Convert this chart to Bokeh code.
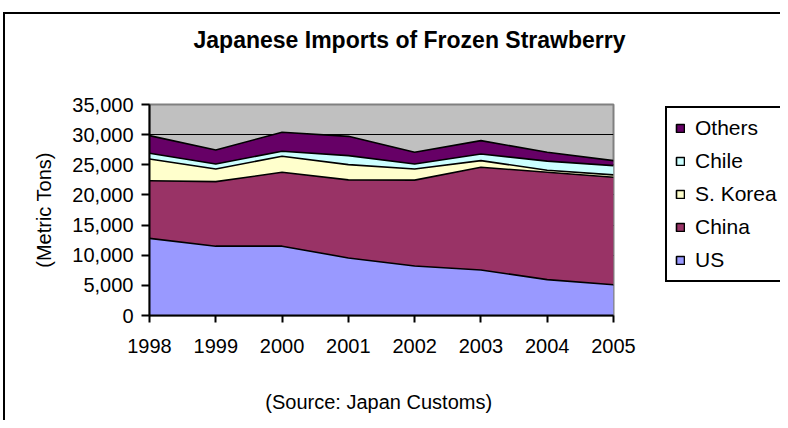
from bokeh.plotting import figure
from bokeh.layouts import row
from bokeh.models import ColumnDataSource, Legend, LegendItem, NumeralTickFormatter, FixedTicker, Title, Range1d
from bokeh.embed import file_html
from bokeh.resources import INLINE

years = [1998, 1999, 2000, 2001, 2002, 2003, 2004, 2005]
us = [12800, 11500, 11500, 9550, 8200, 7550, 5950, 5100]
china = [9550, 10710, 12260, 12940, 14250, 17040, 17810, 17830]
skorea = [3600, 2100, 2650, 2540, 1860, 1100, 340, 390]
chile = [960, 830, 830, 1490, 830, 1110, 1500, 1540]
others = [2930, 2320, 3150, 3200, 1930, 2210, 1470, 830]

series = ["US", "China", "S. Korea", "Chile", "Others"]
colors = ["#9999FF", "#993366", "#FFFFCC", "#CCFFFF", "#660066"]
y_ticks = [0, 5000, 10000, 15000, 20000, 25000, 30000, 35000]

src = ColumnDataSource(dict(year=years, US=us, China=china, **{"S. Korea": skorea}, Chile=chile, Others=others))

FONT = "Liberation Sans"
W, H = 660, 420
LW = 780 - W
fl, ft, fw, fh = 149, 104, 464, 211

p = figure(width=W, height=H, output_backend="svg", toolbar_location=None,
           x_range=Range1d(1998, 2005), y_range=Range1d(0, 35000),
           min_border_left=fl, min_border_top=ft,
           min_border_right=W - fl - fw, min_border_bottom=H - ft - fh,
           background_fill_color="#C0C0C0", border_fill_alpha=0,
           outline_line_color="#808080", outline_line_width=2)
# outer chart-area frame (continues past the window edges)
p.styles = {
    "background-color": "white",
    "background-image": "linear-gradient(#000,#000), linear-gradient(#000,#000)",
    "background-size": "2px 100%, 100% 2px",
    "background-position": "3px 12px, 3px 12px",
    "background-repeat": "no-repeat",
}

p.varea_stack(stackers=series, x="year", color=colors, source=src)
p.vline_stack(stackers=series, x="year", color="black", line_width=1.6, source=src)

# axes
p.yaxis.ticker = FixedTicker(ticks=y_ticks)
p.yaxis.formatter = NumeralTickFormatter(format="0,0")
p.xaxis.ticker = FixedTicker(ticks=years)
for ax in (p.xaxis[0], p.yaxis[0]):
    ax.axis_line_width = 2
    ax.axis_line_color = "black"
    ax.major_tick_line_width = 2
    ax.major_tick_line_color = "black"
    ax.major_tick_in = 0
    ax.minor_tick_line_color = None
    ax.major_label_text_font = FONT
    ax.major_label_text_font_size = "20px"
    ax.major_label_text_color = "black"
    ax.axis_label_text_font = FONT
    ax.axis_label_text_font_size = "20px"
    ax.axis_label_text_font_style = "normal"
    ax.axis_label_text_color = "black"
p.yaxis.major_tick_out = 8
p.xaxis.major_tick_out = 7
p.yaxis.major_label_standoff = 8
p.xaxis.major_label_standoff = 16
p.yaxis.axis_label = "(Metric Tons)"
p.yaxis.axis_label_standoff = 14
p.xaxis.axis_label = "(Source:  Japan Customs)"
p.xaxis.axis_label_standoff = 35

p.xgrid.grid_line_color = None
p.ygrid.ticker = FixedTicker(ticks=y_ticks)
p.ygrid.grid_line_color = "black"
p.ygrid.grid_line_width = 1

# spacer between frame and title, then the title itself (outermost)
p.add_layout(Title(text=" ", text_font=FONT, text_font_size="20px", standoff=28), "above")
p.title = Title(text="Japanese Imports of Frozen Strawberry", align="left",
                text_font=FONT, text_font_size="23px", text_font_style="bold",
                text_color="black", offset=44, standoff=0)

# legend panel (separate canvas so it is not clipped by the plot area;
# its frame is row-aligned with the main plot area)
lf = figure(width=LW, height=H, output_backend="svg", toolbar_location=None,
            x_range=Range1d(0, 1), y_range=Range1d(0, 1),
            x_axis_type=None, y_axis_type=None,
            min_border=0, min_border_left=0, min_border_right=0,
            min_border_top=0, min_border_bottom=0,
            background_fill_alpha=0, border_fill_alpha=0, outline_line_color=None)
lf.grid.visible = False
lf.styles = {
    "background-color": "white",
    "background-image": "linear-gradient(#000,#000)",
    "background-size": "100% 2px",
    "background-position": "0px 12px",
    "background-repeat": "no-repeat",
}
nan = float("nan")
items = []
for name, c in zip(series, colors):
    r = lf.quad(left=[nan], right=[nan], top=[nan], bottom=[nan],
                fill_color=c, line_color="black", line_width=1.6)
    items.append(LegendItem(label=name, renderers=[r]))
items = items[::-1]
legend = Legend(items=items, location=(5, 33), orientation="vertical",
                label_text_font=FONT, label_text_font_size="21px",
                label_text_color="black", label_standoff=10,
                glyph_width=10, glyph_height=10, label_height=22, spacing=9,
                padding=8, margin=0, border_line_color="black",
                border_line_width=2, border_line_alpha=1,
                background_fill_color="white", background_fill_alpha=1)
lf.add_layout(legend, "center")

layout = row(p, lf, spacing=0)
open("out.html", "w").write(file_html(layout, INLINE))
